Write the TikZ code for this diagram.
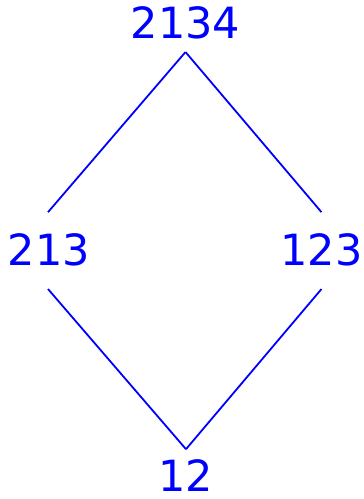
\documentclass[tikz,border=0pt]{standalone}
\usepackage{fontspec}
\setmainfont{DejaVu Sans}
\usetikzlibrary{positioning}

\begin{document}
\begin{tikzpicture}[
  x=0.5pt, y=-0.5pt,
  elem/.style={anchor=base, inner sep=0pt, text=blue,
    font=\fontsize{21.5}{25}\selectfont},
  edge/.style={blue, line width=0.9pt},
]
  \useasboundingbox (0,0) rectangle (364,499);
  % Elements
  \node[elem] (top) at (185.5,38) {2134};
  \node[elem] (lft) at (49,265.5) {213};
  \node[elem] (rgt) at (321.5,265.5) {123};
  \node[elem] (bot) at (186,491.5) {12};
  % Upper edges
  \draw[edge] ([yshift=-6.5pt]top.south) -- ([xshift=-0.5pt,yshift=10.5pt]lft.north);
  \draw[edge] ([yshift=-6.5pt]top.south) -- ([yshift=10.5pt]rgt.north);
  % Lower edges
  \draw[edge] ([xshift=-0.5pt,yshift=-11.25pt]lft.south) -- ([yshift=5pt]bot.north);
  \draw[edge] ([yshift=-11.25pt]rgt.south) -- ([yshift=5pt]bot.north);
\end{tikzpicture}
\end{document}
